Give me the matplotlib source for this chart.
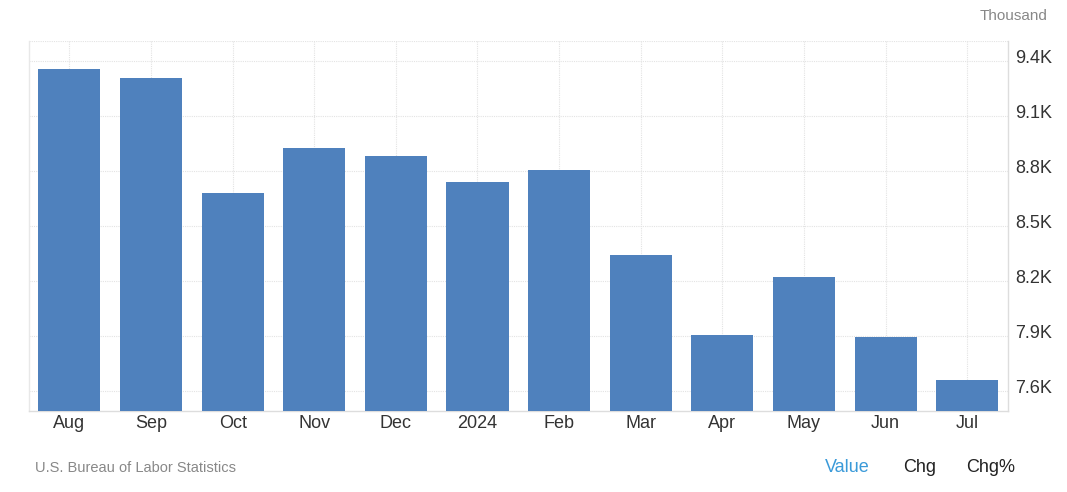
import matplotlib
matplotlib.use("Agg")
import matplotlib.pyplot as plt

categories = ["Aug", "Sep", "Oct", "Nov", "Dec", "2024", "Feb", "Mar", "Apr", "May", "Jun", "Jul"]
values = [9.355, 9.307, 8.680, 8.925, 8.882, 8.740, 8.805, 8.342, 7.905, 8.222, 7.894, 7.660]
yticks = [7.6, 7.9, 8.2, 8.5, 8.8, 9.1, 9.4]
ytick_labels = ["7.6K", "7.9K", "8.2K", "8.5K", "8.8K", "9.1K", "9.4K"]

plt.rcParams['font.family'] = ['Liberation Sans', 'DejaVu Sans']

fig = plt.figure(figsize=(10.67, 4.92), dpi=100)
ax = fig.add_axes([0.0268, 0.1646, 0.9179, 0.7521])

x = list(range(len(categories)))
ax.bar(x, values, width=0.76, color="#4f81bd", zorder=3)
ax.set_xlim(-0.5, len(categories) - 0.5)
ax.set_ylim(7.49, 9.509)

ax.set_xticks(x)
ax.set_xticklabels(categories, fontsize=13, color="#333333")
ax.set_yticks(yticks)
ax.set_yticklabels(ytick_labels, fontsize=13, color="#333333", va="bottom")
ax.yaxis.tick_right()
ax.tick_params(axis='both', length=0)
ax.tick_params(axis='y', pad=5)
ax.tick_params(axis='x', pad=3)
for lbl in ax.get_yticklabels():
    lbl.set_va("center")
    lbl.set_y(lbl.get_position()[1])

ax.grid(True, color="#e3e3e3", linestyle=(0, (1, 1)), linewidth=0.8, zorder=0)
ax.spines["top"].set_visible(False)
ax.axhline(9.509, color="#e3e3e3", linestyle=(0, (1, 1)), linewidth=0.8, zorder=0)
ax.spines["left"].set_color("#e8e8e8")
ax.spines["right"].set_color("#dddddd")
ax.spines["bottom"].set_color("#dddddd")
for s in ["left", "right", "bottom"]:
    ax.spines[s].set_linewidth(1.0)

import matplotlib.transforms as mtransforms
offset = mtransforms.ScaledTranslation(0, 2 / 100, fig.dpi_scale_trans)
for lbl in ax.get_yticklabels():
    lbl.set_transform(lbl.get_transform() + offset)

fig.text(1048 / 1067, 1 - 16 / 492, "Thousand", ha="right", va="center", fontsize=11, color="#888888")
fig.text(35 / 1067, 1 - 468 / 492, "U.S. Bureau of Labor Statistics", ha="left", va="center", fontsize=10.5, color="#888888")
fig.text(825 / 1067, 1 - 468 / 492, "Value", ha="left", va="center", fontsize=13, color="#3a9ad9")
fig.text(903 / 1067, 1 - 468 / 492, "Chg", ha="left", va="center", fontsize=13, color="#222222")
fig.text(966 / 1067, 1 - 468 / 492, "Chg%", ha="left", va="center", fontsize=13, color="#222222")

fig.savefig("out.png", dpi=100, facecolor="white")
